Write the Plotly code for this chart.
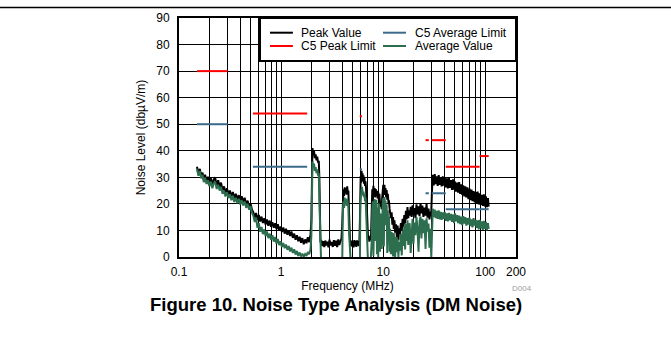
import plotly.graph_objects as go

FONT = "Arial, 'Liberation Sans', Helvetica, sans-serif"

# Conducted noise scan, frequency in MHz, levels in dBuV/m (one row per band)
freq_mhz = [
    0.150, 0.155, 0.160, 0.165, 0.170, 0.175, 0.180, 0.186, 0.192, 0.198,
    0.205, 0.212, 0.219, 0.226, 0.234, 0.242, 0.250, 0.258, 0.267, 0.276,
    0.285, 0.295, 0.305, 0.315, 0.326, 0.337, 0.348, 0.360, 0.372, 0.385,
    0.398, 0.411, 0.425, 0.440, 0.455, 0.470, 0.486, 0.502, 0.519,
    0.535, 0.552, 0.569, 0.587, 0.605, 0.624, 0.643, 0.663, 0.684, 0.705,
    0.727, 0.750, 0.773, 0.797, 0.822, 0.848, 0.874, 0.901, 0.929, 0.958,
    0.988, 1.019, 1.051, 1.084, 1.118, 1.153, 1.189, 1.226, 1.264, 1.303,
    1.344, 1.386, 1.429, 1.474, 1.520, 1.567, 1.616, 1.666, 1.718, 1.772,
    1.827, 1.884, 1.943,
    1.98, 2.00, 2.03, 2.06, 2.10, 2.14, 2.18, 2.22, 2.26, 2.30, 2.34, 2.37, 2.40, 2.43,
    2.47, 2.53, 2.59, 2.65, 2.71, 2.77, 2.84, 2.91, 2.98, 3.05,
    3.13, 3.21, 3.29, 3.37, 3.45, 3.54, 3.63, 3.72, 3.81, 3.90,
    3.97, 4.02, 4.08, 4.14, 4.20, 4.26, 4.32, 4.38, 4.44, 4.50, 4.56, 4.62, 4.68, 4.74,
    4.82, 4.90, 4.98, 5.06, 5.14, 5.22, 5.30, 5.38, 5.46, 5.54, 5.62, 5.70, 5.78, 5.86,
    5.92, 5.97, 6.02, 6.08, 6.14, 6.20, 6.27, 6.34, 6.41, 6.48, 6.56, 6.64, 6.72, 6.80,
    6.88, 6.96, 7.04,
    7.12, 7.22, 7.32, 7.42, 7.52, 7.62,
    7.72, 7.82, 7.92, 8.02, 8.13, 8.24, 8.35, 8.46, 8.58, 8.70,
    8.82, 8.94, 9.06, 9.18, 9.30, 9.42, 9.54, 9.66, 9.78, 9.90,
    10.02, 10.15, 10.28, 10.41, 10.54, 10.68, 10.82, 10.96, 11.10, 11.25, 11.40, 11.55,
    11.7, 11.9, 12.1, 12.3, 12.5, 12.7, 12.9, 13.1, 13.35, 13.6,
    13.85, 14.1, 14.35, 14.6, 14.9, 15.2, 15.5, 15.8, 16.1, 16.4,
    16.7, 17.0, 17.3, 17.6, 17.9,
    18.2, 18.6, 19.0, 19.4, 19.8, 20.2, 20.7, 21.2, 21.7, 22.2,
    22.7, 23.2, 23.7, 24.2, 24.8, 25.4, 26.0, 26.6, 27.2, 27.8, 28.4, 29.0, 29.6,
    30.0, 30.6, 31.3, 32.0, 32.7, 33.4, 34.2, 35.0, 35.8, 36.6,
    37.4, 38.3, 39.2, 40.1, 41.0, 42.0, 43.0, 44.0, 45.0, 46.1,
    47.2, 48.3, 49.4, 50.6, 51.8, 53.0, 54.2, 55.5, 56.8, 58.1,
    59.5, 60.9, 62.3, 63.8, 65.3, 66.8, 68.4, 70.0, 71.6, 73.3,
    75.0, 76.8, 78.6, 80.4, 82.3, 84.2, 86.2, 88.2, 90.3, 92.4,
    94.6, 96.8, 99.1, 101.4, 103.8, 106.2, 108.0,
]

peak_dbuv = [
    34.0, 31.2, 33.2, 30.4, 31.8, 29.0, 31.0, 28.4, 30.2, 27.6,
    29.8, 27.0, 29.2, 30.0, 26.8, 28.9, 26.4, 28.0, 25.2, 26.6,
    24.2, 25.9, 23.4, 25.0, 22.8, 24.5, 22.0, 23.8, 21.5, 23.3,
    21.0, 22.9, 20.8, 22.3, 19.7, 21.2, 18.9, 20.2, 17.8,
    16.8, 14.8, 16.6, 13.9, 15.8, 13.4, 15.2, 12.8, 14.6, 12.2,
    14.1, 11.8, 13.7, 11.4, 13.1, 11.0, 12.7, 10.5, 12.3, 10.0,
    11.5, 9.4, 11.1, 8.8, 10.6, 8.4, 10.1, 7.9, 9.6, 7.2,
    8.8, 6.5, 8.2, 5.9, 7.6, 5.4, 7.1, 4.8, 6.6, 5.2,
    7.4, 5.6, 8.6,
    14.0, 33.0, 41.0, 38.5, 40.0, 37.2, 38.6, 36.4, 37.8, 35.5, 36.2, 30.0, 12.0, 5.5,
    6.4, 4.1, 6.0, 3.7, 6.2, 4.3, 5.8, 3.6, 6.5, 4.4,
    5.7, 3.8, 6.3, 4.2, 6.1, 3.7, 6.6, 4.5, 5.9, 6.8,
    12.0, 22.0, 25.5, 23.0, 26.2, 24.0, 25.8, 23.5, 26.6, 24.2, 25.0, 18.0, 8.0, 5.0,
    4.2, 6.2, 3.9, 5.9, 3.6, 6.4, 4.3, 6.1, 3.8, 6.3, 4.4, 6.0, 4.1, 6.7,
    14.0, 27.0, 30.5, 28.0, 32.5, 29.0, 31.5, 28.5, 30.8, 27.6, 29.8, 26.8, 28.5, 25.5,
    20.0, 12.0, 7.5,
    6.5, 8.0, 5.8, 7.5, 6.2, 9.0,
    18.0, 25.5, 22.6, 26.8, 23.6, 26.0, 22.4, 25.6, 23.0, 24.9,
    22.1, 24.4, 21.6, 23.8, 20.6, 19.0, 21.0, 18.0, 22.4, 25.0,
    27.2, 23.8, 27.2, 23.4, 26.0, 22.5, 25.2, 21.6, 23.8, 20.8, 20.9, 18.2,
    17.2, 14.6, 16.8, 12.2, 15.0, 10.6, 13.8, 9.2, 12.3, 7.6,
    11.8, 6.3, 10.8, 8.6, 12.8, 9.8, 14.4, 11.2, 15.8, 12.6,
    17.4, 14.2, 18.8, 14.6, 17.6,
    15.6, 18.9, 15.1, 19.5, 15.8, 18.4, 14.6, 19.8, 16.1, 19.1,
    15.4, 20.3, 16.4, 19.4, 15.1, 18.6, 15.6, 19.9, 14.8, 18.2, 14.2, 16.8, 17.0,
    24.0, 31.0, 27.0, 31.2, 27.4, 30.4, 26.8, 30.8, 27.2, 30.0,
    26.6, 30.4, 26.9, 29.8, 26.2, 29.6, 25.8, 29.9, 26.0, 29.0,
    25.3, 29.2, 25.4, 28.4, 24.6, 28.0, 24.2, 28.2, 23.8, 27.4,
    23.4, 27.0, 22.8, 26.6, 22.4, 26.2, 21.8, 25.8, 21.4, 25.4,
    21.0, 24.8, 20.6, 24.4, 20.2, 24.6, 19.8, 24.0, 19.6, 23.4,
    19.2, 23.6, 19.0, 22.8, 18.8, 22.2, 19.0,
]

avg_dbuv = [
    33.2, 30.6, 32.4, 29.6, 30.9, 28.2, 29.9, 27.5, 28.9, 26.7,
    28.4, 25.9, 27.7, 28.4, 25.6, 27.2, 25.0, 26.4, 23.8, 25.0,
    22.8, 24.4, 22.2, 23.6, 21.4, 23.1, 20.7, 22.3, 20.2, 21.9,
    19.8, 21.4, 19.4, 20.9, 18.5, 20.1, 17.8, 19.2, 16.6,
    15.5, 13.2, 14.9, 11.0, 12.7, 9.5, 11.3, 8.6, 10.4, 7.9,
    9.6, 7.1, 8.8, 6.5, 8.2, 5.8, 7.5, 5.1, 6.8, 4.5,
    5.9, 3.8, 5.3, 3.3, 4.7, 2.7, 4.1, 2.1, 3.5, 1.5,
    2.9, 0.9, 2.3, 0.4, 1.7, 0.2, 1.3, 0.1, 1.1, 0.4,
    1.9, 1.0, 3.0,
    8.0, 28.0, 36.0, 33.5, 35.2, 32.4, 33.8, 31.6, 33.0, 30.6, 31.5, 22.0, 6.0, 0.0,
    -3, -3, -3, -3, -3, -3, -3, -3, -3, -3,
    -3, -3, -3, -3, -3, -3, -3, -3, -3, -3,
    -3, 16.0, 21.0, 18.5, 22.4, 20.0, 21.8, 19.2, 22.0, 20.5, 19.0, 10.0, 2.0, -3,
    -3, -3, -3, -3, -3, -3, -3, -3, -3, -3, -3, -3, -3, -3,
    -3, 20.0, 24.0, 22.0, 25.5, 26.4, 25.0, 23.2, 24.6, 22.5, 23.8, 21.0, 22.5, 18.0,
    12.0, 4.0, -3,
    -3, -3, -3, -3, -3, 2.0,
    6.0, 18.0, 21.0, 0.5, 19.5, 21.8, 6.0, 20.4, 21.6, 1.0,
    18.6, 0.0, 20.2, 15.4, 2.0, 12.5, 16.4, 3.0, 15.2, 20.4,
    22.2, 4.0, 22.6, 20.6, 21.2, 12.0, 19.8, 1.5, 17.6, 6.0, 15.2, 2.0,
    10.6, 1.0, 9.4, 5.6, 0.2, 9.0, 3.2, 0.0, 7.6, 1.8,
    6.8, 0.0, 5.6, 2.4, 8.6, 0.6, 10.0, 4.2, 11.6, 2.8,
    12.4, 6.0, 13.8, 4.5, 12.6,
    12.4, 1.5, 11.6, 14.4, 5.0, 13.0, 8.2, 15.0, 10.2, 2.0,
    13.4, 15.2, 7.0, 14.4, 9.0, 13.8, 3.0, 14.6, 9.6, 12.6, 3.5, 10.6, 0.0,
    12.0, 18.2, 15.0, 17.8, 14.6, 17.4, 14.4, 17.6, 14.2, 17.0,
    14.0, 16.8, 14.4, 17.0, 13.6, 16.4, 13.4, 16.6, 13.8, 16.2,
    13.2, 16.0, 12.8, 16.4, 13.4, 15.8, 12.8, 15.6, 12.4, 15.2,
    12.0, 15.4, 12.6, 15.0, 11.8, 14.6, 12.2, 14.8, 11.6, 14.2,
    11.2, 14.6, 11.8, 14.0, 11.0, 13.8, 10.4, 14.0, 10.8, 13.4,
    10.2, 13.6, 10.6, 13.2, 10.0, 12.8, 10.6,
]

# CISPR 25 class 5 limit bands: (start MHz, stop MHz, level dBuV/m)
peak_limit_bands = [
    (0.15, 0.3, 70), (0.53, 1.8, 54), (5.9, 6.2, 53), (26, 28, 44),
    (30, 41, 44), (41, 88, 34), (88, 108, 38),
]
avg_limit_bands = [
    (0.15, 0.3, 50), (0.53, 1.8, 34), (5.9, 6.2, 33), (26, 28, 24),
    (30, 41, 24), (41, 88, 18), (88, 108, 18),
]

# log grid: every 1..9 multiple per decade, labels only on a few
x_grid_vals = [0.1, 0.2, 0.3, 0.4, 0.5, 0.6, 0.7, 0.8, 0.9,
               1, 2, 3, 4, 5, 6, 7, 8, 9,
               10, 20, 30, 40, 50, 60, 70, 80, 90,
               100, 200]
x_tick_labels = {0.1: "0.1", 1: "1", 10: "10", 100: "100", 200: "200"}
y_tick_vals = [0, 10, 20, 30, 40, 50, 60, 70, 80, 90]

COLORS = {
    "Peak Value": "#000000",
    "C5 Peak Limit": "#FF0000",
    "C5 Average Limit": "#3B6A8A",
    "Average Value": "#2C6E4E",
}


def band_xy(bands):
    xs, ys = [], []
    for f0, f1, level in bands:
        xs += [f0, f1, None]
        ys += [level, level, None]
    return xs, ys


fig = go.Figure()
fig.add_trace(go.Scatter(x=freq_mhz, y=peak_dbuv, mode="lines", name="Peak Value",
                         line=dict(color=COLORS["Peak Value"], width=2), showlegend=False))
fig.add_trace(go.Scatter(x=freq_mhz, y=avg_dbuv, mode="lines", name="Average Value",
                         line=dict(color=COLORS["Average Value"], width=2), showlegend=False))
px_, py_ = band_xy(peak_limit_bands)
fig.add_trace(go.Scatter(x=px_, y=py_, mode="lines", name="C5 Peak Limit",
                         line=dict(color=COLORS["C5 Peak Limit"], width=2), showlegend=False))
ax_, ay_ = band_xy(avg_limit_bands)
fig.add_trace(go.Scatter(x=ax_, y=ay_, mode="lines", name="C5 Average Limit",
                         line=dict(color=COLORS["C5 Average Limit"], width=2), showlegend=False))

# legend box in the top-right corner of the plot, two columns
shapes = [
    dict(type="rect", xref="paper", yref="paper", x0=0.2404, x1=1.0, y0=0.82, y1=1.0,
         line=dict(color="black", width=2), fillcolor="white", layer="above"),
    # rule across the top of the page
    dict(type="line", xref="paper", yref="paper", x0=-0.54, x1=1.47, y0=1.044, y1=1.044,
         line=dict(color="black", width=1.5)),
]
annotations = []
legend_slots = [  # (name, sample x0, sample x1, text x, y)
    ("Peak Value", 0.270, 0.338, 0.357, 0.9385),
    ("C5 Peak Limit", 0.270, 0.338, 0.357, 0.8828),
    ("C5 Average Limit", 0.6053, 0.6736, 0.693, 0.9385),
    ("Average Value", 0.6053, 0.6736, 0.693, 0.8828),
]
for name, sx0, sx1, tx, yy in legend_slots:
    shapes.append(dict(type="line", xref="paper", yref="paper", x0=sx0, x1=sx1, y0=yy, y1=yy,
                       line=dict(color=COLORS[name], width=2), layer="above"))
    annotations.append(dict(text=name, xref="paper", yref="paper", x=tx, y=yy,
                            xanchor="left", yanchor="middle", showarrow=False,
                            font=dict(family=FONT, size=12, color="black")))

annotations.append(dict(text="<b>Figure 10. Noise Type Analysis (DM Noise)</b>",
                        xref="paper", yref="paper", x=0.4644, y=-0.197,
                        xanchor="center", yanchor="middle", showarrow=False,
                        font=dict(family=FONT, size=18.5, color="black")))
annotations.append(dict(text="D004", xref="paper", yref="paper", x=1.0534, y=-0.130,
                        xanchor="right", yanchor="middle", showarrow=False,
                        font=dict(family=FONT, size=8, color="#A0A0A0")))

fig.update_layout(
    width=671, height=341,
    margin=dict(l=179, r=155, t=18, b=84, pad=0),
    paper_bgcolor="white", plot_bgcolor="white",
    font=dict(family=FONT, size=12, color="black"),
    shapes=shapes, annotations=annotations,
    showlegend=False,
)
fig.update_xaxes(
    type="log", range=[-1, 2.30103],
    tickmode="array", tickvals=x_grid_vals,
    ticktext=[x_tick_labels.get(v, "") for v in x_grid_vals],
    showgrid=True, gridcolor="black", gridwidth=1,
    showline=True, linecolor="black", linewidth=2, mirror=True,
    ticks="", zeroline=False, ticklabelstandoff=3,
    tickfont=dict(family=FONT, size=12, color="black"),
    title=dict(text="Frequency (MHz)", standoff=3, font=dict(family=FONT, size=12)),
)
fig.update_yaxes(
    range=[0, 90], tickmode="array", tickvals=y_tick_vals,
    showgrid=True, gridcolor="black", gridwidth=1,
    showline=True, linecolor="black", linewidth=2, mirror=True,
    ticks="", zeroline=False, ticklabelstandoff=5,
    tickfont=dict(family=FONT, size=12, color="black"),
    title=dict(text="Noise Level (dbµV/m)", standoff=8, font=dict(family=FONT, size=12)),
)

fig.write_html("out.html")
